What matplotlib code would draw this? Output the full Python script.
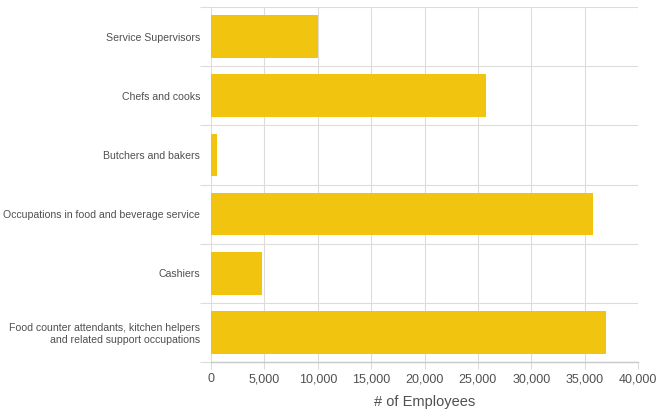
import numpy as np
import matplotlib.pyplot as plt
from matplotlib.ticker import FuncFormatter, MultipleLocator

plt.rcParams['font.family'] = ['Liberation Sans', 'DejaVu Sans']

# Employees by occupation (top to bottom as shown)
occupations = [
    "Service Supervisors",
    "Chefs and cooks",
    "Butchers and bakers",
    "Occupations in food and beverage service",
    "Cashiers",
    "Food counter attendants, kitchen helpers\nand related support occupations",
]
employees = [10000, 25800, 600, 35800, 4750, 37000]

bar_color = "#F1C40F"
grid_color = "#DCDCDC"
text_color = "#505050"

fig = plt.figure(figsize=(6.63, 4.17), dpi=100)
ax = fig.add_axes([0.3183, 0.1319, 0.9623 - 0.3183, 0.9832 - 0.1319])

y = np.arange(len(occupations))
ax.barh(y, employees, height=0.72, color=bar_color, zorder=3)

ax.set_xlim(0, 40000)
ax.set_ylim(len(occupations) - 0.5, -0.5)

# x axis
ax.xaxis.set_major_locator(MultipleLocator(5000))
ax.xaxis.set_major_formatter(FuncFormatter(lambda v, p: f"{int(v):,}"))
ax.tick_params(axis='x', colors=grid_color, labelcolor=text_color, labelsize=9,
               length=5, width=0.8, pad=3)
ax.set_xlabel("# of Employees", fontsize=10.5, color=text_color, labelpad=7)
ax.grid(axis='x', color=grid_color, linewidth=0.8, zorder=0)

# y axis: labels at centers, grid lines between categories
ax.set_yticks(y)
ax.set_yticklabels(occupations, fontsize=7.6, color=text_color, ha='right')
ax.tick_params(axis='y', which='major', length=0, pad=8)
ax.set_yticks(np.arange(-0.5, len(occupations), 1.0), minor=True)
ax.tick_params(axis='y', which='minor', length=8, color=grid_color, width=0.8)
ax.grid(axis='y', which='minor', color=grid_color, linewidth=0.8, zorder=0)
for lbl in ax.get_yticklabels():
    lbl.set_multialignment('right')

for side in ['top', 'right', 'left']:
    ax.spines[side].set_visible(False)
ax.spines['bottom'].set_color("#C8C8C8")
ax.spines['bottom'].set_linewidth(1.0)

fig.savefig("out.png", dpi=100)
